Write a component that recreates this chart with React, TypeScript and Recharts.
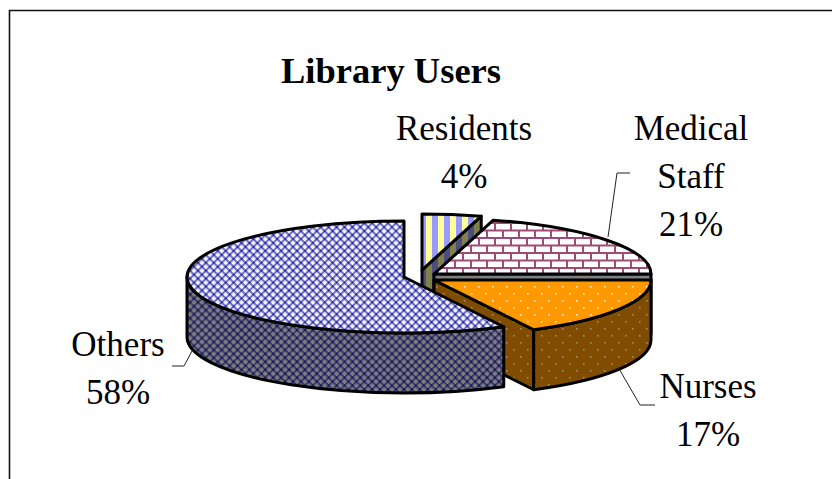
import { PieChart, Pie } from "recharts"

const sliceNames = ["Residents", "Medical Staff", "Nurses", "Others"]
const sliceValues = [4.4, 20.6, 17.4, 57.6]

const data = sliceNames.map((name, i) => ({ name, value: sliceValues[i] }))

const SQUASH = 56 / 217
const DEPTH = 60

// how each slice is pulled out of the pie, plus its fills
const sliceStyle: Record<string, { dx: number; dy: number; top: string; wall: string }> = {
  Residents: { dx: 18, dy: -7, top: "url(#stripeTop)", wall: "url(#stripeWall)" },
  "Medical Staff": { dx: 30, dy: -3, top: "url(#brickTop)", wall: "url(#brickWall)" },
  Nurses: { dx: 30, dy: 3, top: "url(#dotTop)", wall: "url(#dotWall)" },
  Others: { dx: 0, dy: 0, top: "url(#latticeTop)", wall: "url(#latticeWall)" },
}

const labelStyle: Record<string, { x: number; y: number; leader?: string }> = {
  Residents: { x: 464, y: 140 },
  "Medical Staff": { x: 691, y: 140, leader: "630,173 617,173 608,237" },
  Nurses: { x: 708, y: 398, leader: "618,367 640,405 655,405" },
  Others: { x: 118, y: 356, leader: "172,366 184,366 192,351" },
}

const serif = "'Liberation Serif', 'Times New Roman', serif"

function SliceShape(props: any) {
  const { cx, cy, outerRadius: r, startAngle, endAngle, name } = props
  const s = sliceStyle[name]
  const ox = cx + s.dx
  const oy = cy + s.dy
  const ry = r * SQUASH
  // angles counted clockwise from 12 o'clock
  const from = 90 - startAngle
  const to = 90 - endAngle
  const pt = (deg: number, down = 0) => {
    const a = (deg * Math.PI) / 180
    return `${(ox + r * Math.sin(a)).toFixed(2)} ${(oy - ry * Math.cos(a) + down).toFixed(2)}`
  }
  const arc = (a: number, b: number, down: number, sweep: number) =>
    `A ${r} ${ry} 0 ${Math.abs(b - a) > 180 ? 1 : 0} ${sweep} ${pt(b, down)}`

  const walls: string[] = []
  // cut face along the closing edge
  if (to > 0 && to < 180) {
    walls.push(`M ${ox} ${oy} L ${pt(to)} L ${pt(to, DEPTH)} L ${ox} ${oy + DEPTH} Z`)
  }
  // rim, only the part on the front half
  const a = Math.max(from, 90)
  const b = Math.min(to, 270)
  if (b > a) {
    walls.push(`M ${pt(a)} ${arc(a, b, 0, 1)} L ${pt(b, DEPTH)} ${arc(b, a, DEPTH, 0)} Z`)
  }

  return (
    <g stroke="#000" strokeWidth={3} strokeLinejoin="round">
      {walls.map((d, i) => (
        <path key={i} d={d} fill={s.wall} />
      ))}
      <path d={`M ${ox} ${oy} L ${pt(from)} ${arc(from, to, 0, 1)} Z`} fill={s.top} />
    </g>
  )
}

function SliceLabel(props: any) {
  const { name, percent } = props
  const l = labelStyle[name]
  const lines = [...name.split(" "), `${Math.round(percent * 100)}%`]
  return (
    <g>
      {l.leader && <polyline points={l.leader} fill="none" stroke="#222" strokeWidth={1} />}
      <text x={l.x} y={l.y} textAnchor="middle" fontFamily={serif} fontSize={35} fill="#000">
        {lines.map((t, i) => (
          <tspan key={i} x={l.x} dy={i === 0 ? 0 : 48}>
            {t}
          </tspan>
        ))}
      </text>
    </g>
  )
}

export default function App() {
  return (
    <div style={{ position: "absolute", left: 0, top: 0, width: 832, height: 479, background: "#fff" }}>
      <PieChart width={832} height={479} margin={{ top: 0, right: 0, bottom: 0, left: 0 }}>
        <defs>
          <pattern id="latticeTop" width="5.6" height="5.6" patternUnits="userSpaceOnUse" patternTransform="rotate(45)">
            <rect width="5.6" height="5.6" fill="#f6f6ff" />
            <path d="M0 0H5.6V2H0ZM0 0H2V5.6H0Z" fill="#6f6fc8" />
            <rect x="0" y="0" width="2" height="2" fill="#2c2c9a" />
          </pattern>
          <pattern id="latticeWall" width="5.6" height="5.6" patternUnits="userSpaceOnUse" patternTransform="rotate(45)">
            <rect width="5.6" height="5.6" fill="#808080" />
            <path d="M0 0H5.6V2H0ZM0 0H2V5.6H0Z" fill="#3c3c6c" />
            <rect x="0" y="0" width="2" height="2" fill="#15155a" />
          </pattern>
          <pattern id="stripeTop" width="12" height="12" patternUnits="userSpaceOnUse">
            <rect width="12" height="12" fill="#ffff99" />
            <rect width="6" height="12" fill="#9999ff" />
          </pattern>
          <pattern id="stripeWall" width="12" height="12" patternUnits="userSpaceOnUse">
            <rect width="12" height="12" fill="#80804d" />
            <rect width="6" height="12" fill="#4d4d80" />
          </pattern>
          <pattern id="brickTop" x="3" y="2" width="16" height="15" patternUnits="userSpaceOnUse">
            <rect width="16" height="15" fill="#fff" />
            <path d="M0 3.5H16M0 11H16M4 3.5V11M12 0V3.5M12 11V15" stroke="#a14a74" strokeWidth="2" fill="none" />
          </pattern>
          <pattern id="brickWall" width="16" height="15" patternUnits="userSpaceOnUse">
            <rect width="16" height="15" fill="#808080" />
            <path d="M0 3.5H16M0 11H16" stroke="#4d1a33" strokeWidth="1.7" fill="none" />
          </pattern>
          <pattern id="dotTop" x="1" y="5" width="14" height="14" patternUnits="userSpaceOnUse">
            <rect width="14" height="14" fill="#ff9900" />
            <rect x="1" y="1" width="1.6" height="1.6" fill="#ffedcc" />
            <rect x="8" y="8" width="1.6" height="1.6" fill="#ffedcc" />
          </pattern>
          <pattern id="dotWall" x="1" y="5" width="14" height="14" patternUnits="userSpaceOnUse">
            <rect width="14" height="14" fill="#804d00" />
            <rect x="1" y="1" width="1.6" height="1.6" fill="#a08c6c" />
            <rect x="8" y="8" width="1.6" height="1.6" fill="#a08c6c" />
          </pattern>
        </defs>
        <path d="M9.5 479V10.5H832" fill="none" stroke="#111" strokeWidth={1.6} />
        <text x={391} y={83} textAnchor="middle" fontFamily={serif} fontSize={36.5} fontWeight="bold" fill="#000">
          Library Users
        </text>
        <Pie
          data={data}
          dataKey="value"
          nameKey="name"
          cx={404}
          cy={277}
          innerRadius={0}
          outerRadius={217}
          startAngle={90}
          endAngle={-270}
          stroke="none"
          shape={SliceShape}
          label={SliceLabel}
          labelLine={false}
          isAnimationActive={false}
        />
      </PieChart>
    </div>
  )
}
